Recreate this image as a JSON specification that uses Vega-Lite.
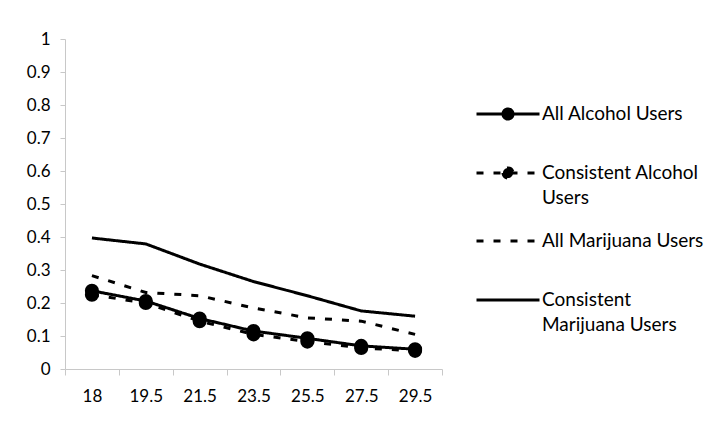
{
  "$schema": "https://vega.github.io/schema/vega-lite/v6.json",
  "width": 377,
  "height": 330,
  "autosize": {"type": "none"},
  "padding": {"left": 65, "top": 39, "right": 284, "bottom": 69},
  "background": "white",
  "config": {
    "view": {"stroke": null},
    "font": "Lato",
    "axis": {
      "labelFont": "Lato",
      "labelFontSize": 17,
      "labelColor": "black",
      "domainColor": "#c8c8c8",
      "tickColor": "#c8c8c8",
      "grid": false,
      "title": null
    }
  },
  "data": {
    "values": [
      {"age": 18, "series": "All Alcohol Users", "value": 0.237},
      {"age": 19.5, "series": "All Alcohol Users", "value": 0.206},
      {"age": 21.5, "series": "All Alcohol Users", "value": 0.153},
      {"age": 23.5, "series": "All Alcohol Users", "value": 0.115},
      {"age": 25.5, "series": "All Alcohol Users", "value": 0.093},
      {"age": 27.5, "series": "All Alcohol Users", "value": 0.07},
      {"age": 29.5, "series": "All Alcohol Users", "value": 0.06},
      {"age": 18, "series": "Consistent Alcohol Users", "value": 0.225},
      {"age": 19.5, "series": "Consistent Alcohol Users", "value": 0.2},
      {"age": 21.5, "series": "Consistent Alcohol Users", "value": 0.145},
      {"age": 23.5, "series": "Consistent Alcohol Users", "value": 0.105},
      {"age": 25.5, "series": "Consistent Alcohol Users", "value": 0.083},
      {"age": 27.5, "series": "Consistent Alcohol Users", "value": 0.064},
      {"age": 29.5, "series": "Consistent Alcohol Users", "value": 0.055},
      {"age": 18, "series": "All Marijuana Users", "value": 0.283},
      {"age": 19.5, "series": "All Marijuana Users", "value": 0.232},
      {"age": 21.5, "series": "All Marijuana Users", "value": 0.222},
      {"age": 23.5, "series": "All Marijuana Users", "value": 0.185},
      {"age": 25.5, "series": "All Marijuana Users", "value": 0.155},
      {"age": 27.5, "series": "All Marijuana Users", "value": 0.145},
      {"age": 29.5, "series": "All Marijuana Users", "value": 0.105},
      {"age": 18, "series": "Consistent Marijuana Users", "value": 0.397},
      {"age": 19.5, "series": "Consistent Marijuana Users", "value": 0.379},
      {"age": 21.5, "series": "Consistent Marijuana Users", "value": 0.318},
      {"age": 23.5, "series": "Consistent Marijuana Users", "value": 0.265},
      {"age": 25.5, "series": "Consistent Marijuana Users", "value": 0.222},
      {"age": 27.5, "series": "Consistent Marijuana Users", "value": 0.176},
      {"age": 29.5, "series": "Consistent Marijuana Users", "value": 0.16}
    ]
  },
  "encoding": {
    "x": {
      "field": "age",
      "type": "ordinal",
      "scale": {"type": "band", "paddingInner": 0, "paddingOuter": 0},
      "axis": {"labelAngle": 0, "tickBand": "extent", "tickSize": 6, "labelPadding": 13}
    },
    "y": {
      "field": "value",
      "type": "quantitative",
      "scale": {"domain": [0, 1], "nice": false},
      "axis": {
        "values": [0, 0.1, 0.2, 0.3, 0.4, 0.5, 0.6, 0.7, 0.8, 0.9, 1],
        "format": "~g",
        "tickSize": 5,
        "labelPadding": 10
      }
    }
  },
  "layer": [
    {
      "mark": {"type": "line", "strokeWidth": 3, "color": "black"},
      "encoding": {
        "strokeDash": {
          "field": "series",
          "type": "nominal",
          "scale": {
            "domain": ["All Alcohol Users", "Consistent Alcohol Users", "All Marijuana Users", "Consistent Marijuana Users"],
            "range": [[1, 0], [7, 10], [7, 10], [1, 0]]
          },
          "legend": {
            "orient": "none",
            "legendX": 410,
            "legendY": 42,
            "title": null,
            "symbolSize": 3969,
            "symbolStrokeWidth": 3,
            "symbolStrokeColor": "black",
            "labelFont": "Lato",
            "labelFontSize": 19,
            "labelColor": "black",
            "labelOffset": 1,
            "labelLimit": 300,
            "rowPadding": 0,
            "labelExpr": "datum.value == 'Consistent Alcohol Users' ? ['Consistent Alcohol', 'Users'] : datum.value == 'Consistent Marijuana Users' ? ['Consistent', 'Marijuana Users'] : datum.value",
            "encode": {
              "symbols": {
                "update": {
                  "shape": {"signal": "indexof(['All Alcohol Users', 'Consistent Alcohol Users'], datum.value) >= 0 ? 'M0,-0.62L0,-0.621M-1,0L1,0M-0.16,0A0.16,0.16 0 1 0 0.16,0A0.16,0.16 0 1 0 -0.16,0ZM0,0.62L0,0.621' : 'M0,-0.62L0,-0.621M-1,0L1,0M0,0.62L0,0.621'"},
                  "fill": {"value": "black"},
                  "stroke": {"value": "black"},
                  "strokeWidth": {"value": 3},
                  "opacity": {"value": 1},
                  "strokeOpacity": {"value": 1},
                  "strokeCap": {"value": "butt"}
                }
              },
              "labels": {
                "update": {
                  "lineHeight": {"value": 25}
                }
              }
            }
          }
        }
      }
    },
    {
      "transform": [{"filter": "indexof(['All Alcohol Users', 'Consistent Alcohol Users'], datum.series) >= 0"}],
      "mark": {"type": "point", "filled": true, "size": 200, "color": "black", "opacity": 1},
      "encoding": {"detail": {"field": "series"}}
    }
  ]
}
